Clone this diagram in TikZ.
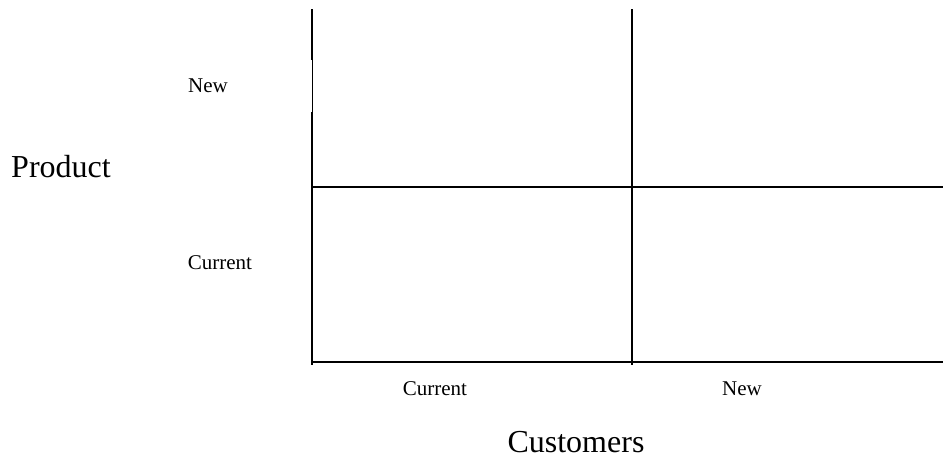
\documentclass[tikz,border=0pt]{standalone}
\usepackage{fontspec}
\setmainfont{Liberation Serif}
\tikzset{
    grid line/.style={line width=2pt},
    small label/.style={inner sep=0pt, anchor=base, font=\fontsize{21}{25}\selectfont},
    axis label/.style={inner sep=0pt, anchor=base, font=\fontsize{32}{38}\selectfont}
}
\begin{document}
\begin{tikzpicture}[x=1pt, y=-1pt]
        \useasboundingbox (0,0) rectangle (943,458);
        % quadrant lines
        \draw[grid line] (312,9) -- (312,60);
        \draw[line width=1pt] (312,60) -- (312,112);
        \draw[grid line] (312,112) -- (312,365);
        \draw[grid line] (632,9) -- (632,365);
        \draw[grid line] (312,187) -- (943,187);
        \draw[grid line] (311,362) -- (943,362);
        % labels
        \foreach \name/\t/\x/\y in {
            prodnew    /New    /208/92,
            prodcur    /Current/220/269,
            custcur    /Current/435/395,
            custnew    /New    /742/395
        } {
            \node[small label] (\name) at (\x,\y) {\t};
        }
        \node[axis label] (product) at (61,177) {Product};
        \node[axis label] (customers) at (576,452) {Customers};
    \end{tikzpicture}
\end{document}
